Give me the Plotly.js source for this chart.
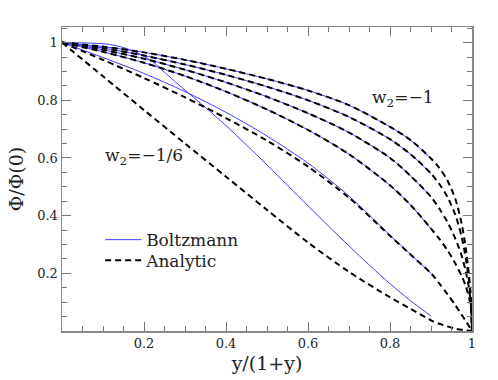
<!DOCTYPE html>
<html>
<head>
<meta charset="utf-8">
<script src="https://cdn.plot.ly/plotly-3.0.1.min.js"></script>
<style>html,body{margin:0;padding:0;background:#fff;}#chart{width:498px;height:380px;}</style>
</head>
<body>
<div id="chart"></div>
<script>
// Analytic curves (dashed), x = y/(1+y)
const xAnalytic = [0, 0.1, 0.2, 0.3, 0.4, 0.5, 0.6, 0.7, 0.8, 0.85, 0.9, 0.92, 0.94, 0.96, 0.975, 0.985, 0.993, 0.998, 1];
const analyticA = [1, 0.986, 0.966, 0.940, 0.909, 0.874, 0.834, 0.783, 0.708, 0.662, 0.598, 0.566, 0.522, 0.455, 0.370, 0.285, 0.190, 0.100, 0];
const analyticB = [1, 0.981, 0.955, 0.924, 0.888, 0.847, 0.800, 0.742, 0.665, 0.613, 0.546, 0.510, 0.465, 0.400, 0.325, 0.250, 0.170, 0.090, 0];
const analyticC = [1, 0.975, 0.944, 0.906, 0.862, 0.812, 0.755, 0.688, 0.600, 0.538, 0.465, 0.425, 0.378, 0.318, 0.260, 0.205, 0.145, 0.080, 0];
const analyticD = [1, 0.968, 0.930, 0.884, 0.830, 0.768, 0.697, 0.613, 0.505, 0.437, 0.355, 0.320, 0.280, 0.232, 0.190, 0.155, 0.115, 0.070, 0];
const analyticE = [1, 0.940, 0.877, 0.810, 0.738, 0.660, 0.570, 0.462, 0.330, 0.265, 0.200, 0.165, 0.128, 0.088, 0.056, 0.034, 0.016, 0.005, 0];
const analyticF = [1, 0.883, 0.766, 0.650, 0.535, 0.420, 0.307, 0.205, 0.117, 0.077, 0.037, 0.025, 0.016, 0.008, 0.004, 0.002, 0.001, 0, 0];

// Boltzmann curves (solid blue), up to x = 0.9
const xBoltz = [0, 0.1, 0.2, 0.3, 0.4, 0.5, 0.6, 0.7, 0.8, 0.85, 0.9];
const boltzA = [1, 0.986, 0.966, 0.940, 0.909, 0.874, 0.834, 0.783, 0.708, 0.662, 0.598];
const boltzB = [1, 0.981, 0.955, 0.924, 0.888, 0.847, 0.800, 0.742, 0.665, 0.613, 0.546];
const boltzC = [1, 0.975, 0.944, 0.906, 0.862, 0.812, 0.755, 0.688, 0.600, 0.538, 0.465];
const boltzD = [1, 0.968, 0.930, 0.884, 0.830, 0.768, 0.697, 0.613, 0.505, 0.437, 0.355];
const boltzE = [1, 0.948, 0.893, 0.830, 0.758, 0.676, 0.582, 0.468, 0.332, 0.266, 0.200];
const xBoltzF = [0, 0.05, 0.1, 0.13, 0.16, 0.19, 0.22, 0.25, 0.3, 0.35, 0.4, 0.45, 0.5, 0.55, 0.6, 0.65, 0.7, 0.75, 0.8, 0.85, 0.9];
const boltzF = [1, 0.999, 0.996, 0.990, 0.978, 0.960, 0.935, 0.897, 0.835, 0.775, 0.712, 0.645, 0.576, 0.505, 0.434, 0.364, 0.295, 0.228, 0.164, 0.105, 0.052];

const tickVals = [0.2, 0.4, 0.6, 0.8, 1];
const tickText = ['0.2', '0.4', '0.6', '0.8', '1'];
const legendNames = ['Boltzmann', 'Analytic'];
const labelTop = 'w<sub>2</sub>=\u22121';
const labelBottom = 'w<sub>2</sub>=\u22121/6';

const blue = 'rgb(60,60,255)';
const serif = '"DejaVu Serif", serif';

const traces = [];
const boltzSets = [[xBoltz, boltzA], [xBoltz, boltzB], [xBoltz, boltzC], [xBoltz, boltzD], [xBoltz, boltzE], [xBoltzF, boltzF]];
boltzSets.forEach((s, i) => {
  traces.push({x: s[0], y: s[1], mode: 'lines', name: legendNames[0], showlegend: i === 0, legend: 'legend',
    line: {color: blue, width: 1, shape: 'spline', smoothing: 0.8}, hoverinfo: 'skip'});
});
const anaSets = [analyticA, analyticB, analyticC, analyticD, analyticE, analyticF];
anaSets.forEach((y, i) => {
  traces.push({x: xAnalytic, y: y, mode: 'lines', name: legendNames[1], showlegend: i === 0, legend: 'legend2',
    line: {color: 'black', width: 2, dash: '6px,4px', shape: 'spline', smoothing: 0.8}, hoverinfo: 'skip'});
});

const axisCommon = {
  showgrid: false, zeroline: false, showline: true, linecolor: '#888', linewidth: 1.5,
  mirror: 'ticks', ticks: 'inside', ticklen: 9, tickwidth: 1, tickcolor: '#777',
  minor: {dtick: 0.05, ticks: 'inside', ticklen: 5, tickwidth: 1, tickcolor: '#777'},
  tickmode: 'array', tickvals: tickVals, ticktext: tickText,
  tickfont: {family: serif, size: 13, color: '#222'}
};

const legendCommon = {xanchor: 'left', yanchor: 'middle', bgcolor: 'rgba(0,0,0,0)', itemwidth: 36,
  font: {family: serif, size: 17, color: '#222'}};

const layout = {
  width: 498, height: 380,
  margin: {l: 62, r: 26, t: 27, b: 49},
  paper_bgcolor: '#fff', plot_bgcolor: '#fff',
  font: {family: serif, size: 17, color: '#222'},
  showlegend: true,
  legend: Object.assign({}, legendCommon, {x: 0.093, y: 0.299}),
  legend2: Object.assign({}, legendCommon, {x: 0.093, y: 0.231}),
  xaxis: Object.assign({}, axisCommon, {range: [0, 1],
    title: {text: 'y/(1+y)', font: {family: serif, size: 19, color: '#222'}, standoff: 6}}),
  yaxis: Object.assign({}, axisCommon, {range: [0, 1.054],
    title: {text: '\u03A6/\u03A6(0)', font: {family: serif, size: 19, color: '#222'}, standoff: 8}}),
  annotations: [
    {x: 0.75, y: 0.807, xref: 'x', yref: 'y', text: labelTop, showarrow: false, xanchor: 'left', yanchor: 'middle',
      font: {family: serif, size: 17, color: '#222'}},
    {x: 0.1, y: 0.604, xref: 'x', yref: 'y', text: labelBottom, showarrow: false, xanchor: 'left', yanchor: 'middle',
      font: {family: serif, size: 17, color: '#222'}}
  ]
};

Plotly.newPlot('chart', traces, layout, {displayModeBar: false, staticPlot: true});
</script>
</body>
</html>
